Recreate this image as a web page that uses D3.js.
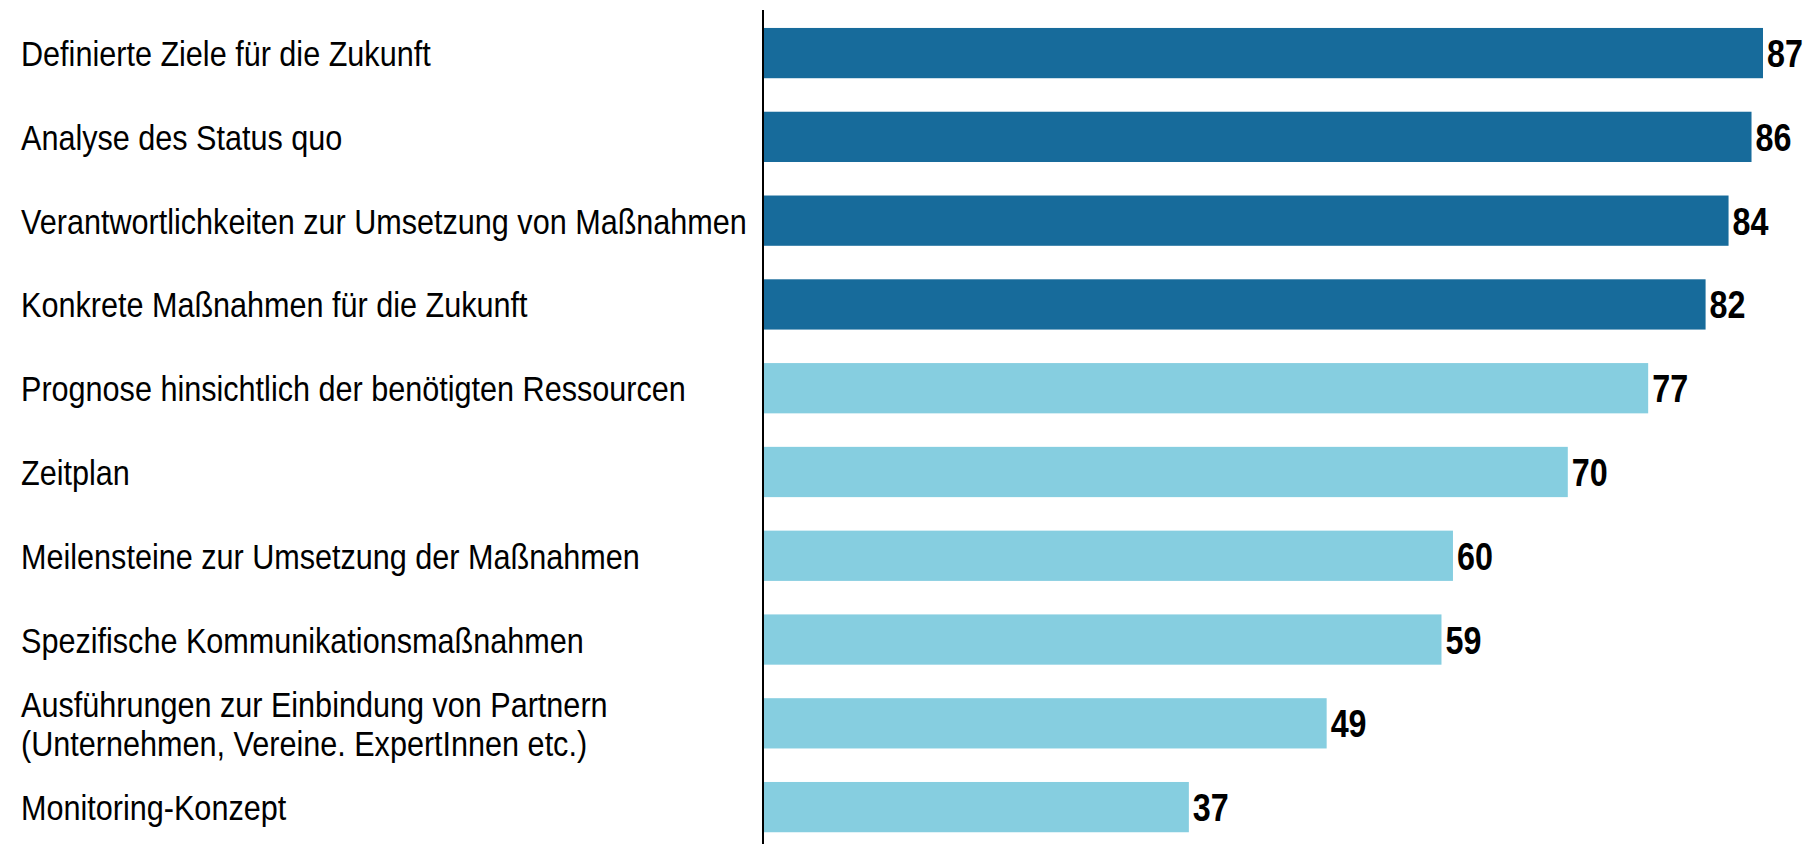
<!DOCTYPE html>
<html>
<head>
<meta charset="utf-8">
<script src="https://cdn.jsdelivr.net/npm/d3@7"></script>
<style>
  html, body { margin: 0; padding: 0; background: #fff; }
  svg { display: block; }
  .label { font-family: "Liberation Sans Narrow", "Arial Narrow", "Liberation Sans", sans-serif; font-size: 36px; fill: #000; }
  .value { font-family: "Liberation Sans Narrow", "Arial Narrow", "Liberation Sans", sans-serif; font-size: 38px; font-weight: bold; fill: #000; }
</style>
</head>
<body>
<script>
const categories = [
  "Definierte Ziele für die Zukunft",
  "Analyse des Status quo",
  "Verantwortlichkeiten zur Umsetzung von Maßnahmen",
  "Konkrete Maßnahmen für die Zukunft",
  "Prognose hinsichtlich der benötigten Ressourcen",
  "Zeitplan",
  "Meilensteine zur Umsetzung der Maßnahmen",
  "Spezifische Kommunikationsmaßnahmen",
  "Ausführungen zur Einbindung von Partnern\n(Unternehmen, Vereine. ExpertInnen etc.)",
  "Monitoring-Konzept"
];
const values = [87, 86, 84, 82, 77, 70, 60, 59, 49, 37];
const groups = ["top", "top", "top", "top", "rest", "rest", "rest", "rest", "rest", "rest"];

const width = 1816, height = 844;
const axisX = 763;
const squeeze = 0.85; // no condensed font installed, so narrow the text

const svg = d3.select("body").append("svg")
  .attr("width", width)
  .attr("height", height);

const x = d3.scaleLinear()
  .domain([0, d3.max(values)])
  .range([axisX + 1, 1763]);

const y = d3.scaleBand()
  .domain(categories)
  .range([11.2, 849])
  .paddingInner(0.4)
  .paddingOuter(0.2);

const color = d3.scaleOrdinal()
  .domain(["top", "rest"])
  .range(["#176b9b", "#86cee0"]);

const rows = categories.map((c, i) => ({ cat: c, value: values[i], group: groups[i] }));

svg.selectAll("rect.bar")
  .data(rows)
  .join("rect")
  .attr("class", "bar")
  .attr("x", x(0))
  .attr("y", d => y(d.cat))
  .attr("width", d => x(d.value) - x(0))
  .attr("height", y.bandwidth())
  .attr("fill", d => color(d.group));

svg.selectAll("text.value")
  .data(rows)
  .join("text")
  .attr("class", "value")
  .attr("transform", d => `translate(${x(d.value) + 4},${y(d.cat) + y.bandwidth() / 2 + 14}) scale(${squeeze},1)`)
  .text(d => d.value);

const labels = svg.selectAll("text.label")
  .data(rows)
  .join("text")
  .attr("class", "label")
  .attr("transform", d => {
    const n = d.cat.split("\n").length;
    const ty = y(d.cat) + y.bandwidth() / 2 + 13 - (n - 1) * 19.5;
    return `translate(21,${ty}) scale(${squeeze},1)`;
  });

labels.selectAll("tspan")
  .data(d => d.cat.split("\n"))
  .join("tspan")
  .attr("x", 0)
  .attr("dy", (d, i) => i === 0 ? 0 : 39)
  .text(d => d);

svg.append("line")
  .attr("x1", axisX).attr("x2", axisX)
  .attr("y1", 10).attr("y2", height)
  .attr("stroke", "#000")
  .attr("stroke-width", 2);
</script>
</body>
</html>
